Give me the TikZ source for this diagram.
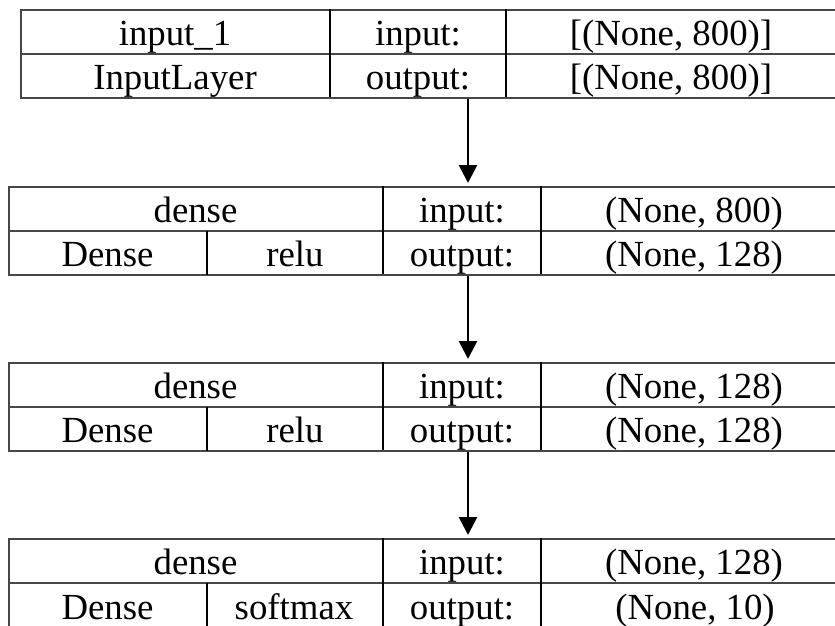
\documentclass[tikz,border=0pt]{standalone}
\usepackage{fontspec}
\setmainfont{Liberation Serif}
\usetikzlibrary{arrows.meta}
\begin{document}
\begin{tikzpicture}[x=1pt,y=-1pt,
  frame/.style={draw=black!72,line width=1.7pt,rectangle,inner sep=0pt,anchor=north west,minimum height=88pt},
  rowline/.style={draw=black!72,line width=1.7pt},
  sep/.style={draw=black,line width=1.2pt},
  lbl/.style={anchor=base,inner sep=0pt,font=\fontsize{36.8}{40}\selectfont},
  flow/.style={line width=2.6pt,shorten >=3pt,-{Triangle[width=18pt,length=18pt]}}]
\useasboundingbox (0,0) rectangle (835,625);
\clip (0,0) rectangle (835,625);
\coordinate (ax) at (468,0);

% ---- box 1
\node[frame,minimum width=816pt] (box1) at (20,9) {};
\draw[rowline] (box1.west) -- (box1.east);
\draw[sep] (box1.north west) ++(310,0) -- ++(0,88);
\draw[sep] (box1.north west) ++(486,0) -- ++(0,88);
\node[lbl] (b1name) at (175,45) {input\_1};
\node[lbl] (b1type) at (175,89) {InputLayer};
\node[lbl] (b1in) at (418,45) {input:};
\node[lbl] (b1out) at (418,89) {output:};
\node[lbl] (b1inv) at (671,45) {[(None, 800)]};
\node[lbl] (b1outv) at (671,89) {[(None, 800)]};

% ---- box 2
\node[frame,minimum width=839pt] (box2) at (8,186) {};
\draw[rowline] (box2.west) -- (box2.east);
\draw[sep] (box2.west) ++(199,0) -- ++(0,44);
\draw[sep] (box2.north west) ++(375,0) -- ++(0,88);
\draw[sep] (box2.north west) ++(533,0) -- ++(0,88);
\node[lbl] (b2name) at (195.5,222) {dense};
\node[lbl] (b2type) at (107.5,266) {Dense};
\node[lbl] (b2act) at (295,266) {relu};
\node[lbl] (b2in) at (462,222) {input:};
\node[lbl] (b2out) at (462,266) {output:};
\node[lbl] (b2inv) at (694,222) {(None, 800)};
\node[lbl] (b2outv) at (694,266) {(None, 128)};

% ---- box 3
\node[frame,minimum width=839pt] (box3) at (8,362) {};
\draw[rowline] (box3.west) -- (box3.east);
\draw[sep] (box3.west) ++(199,0) -- ++(0,44);
\draw[sep] (box3.north west) ++(375,0) -- ++(0,88);
\draw[sep] (box3.north west) ++(533,0) -- ++(0,88);
\node[lbl] (b3name) at (195.5,398) {dense};
\node[lbl] (b3type) at (107.5,442) {Dense};
\node[lbl] (b3act) at (295,442) {relu};
\node[lbl] (b3in) at (462,398) {input:};
\node[lbl] (b3out) at (462,442) {output:};
\node[lbl] (b3inv) at (694,398) {(None, 128)};
\node[lbl] (b3outv) at (694,442) {(None, 128)};

% ---- box 4
\node[frame,minimum width=839pt] (box4) at (8,538) {};
\draw[rowline] (box4.west) -- (box4.east);
\draw[sep] (box4.west) ++(199,0) -- ++(0,44);
\draw[sep] (box4.north west) ++(375,0) -- ++(0,88);
\draw[sep] (box4.north west) ++(533,0) -- ++(0,88);
\node[lbl] (b4name) at (195.5,574) {dense};
\node[lbl] (b4type) at (107.5,619) {Dense};
\node[lbl] (b4act) at (294,619) {softmax};
\node[lbl] (b4in) at (462,574) {input:};
\node[lbl] (b4out) at (462,619) {output:};
\node[lbl] (b4inv) at (694,574) {(None, 128)};
\node[lbl] (b4outv) at (695,619) {(None, 10)};

% ---- connectors
\draw[flow] (box1.south -| ax) -- (box2.north -| ax);
\draw[flow] (box2.south -| ax) -- (box3.north -| ax);
\draw[flow] (box3.south -| ax) -- (box4.north -| ax);
\end{tikzpicture}
\end{document}
